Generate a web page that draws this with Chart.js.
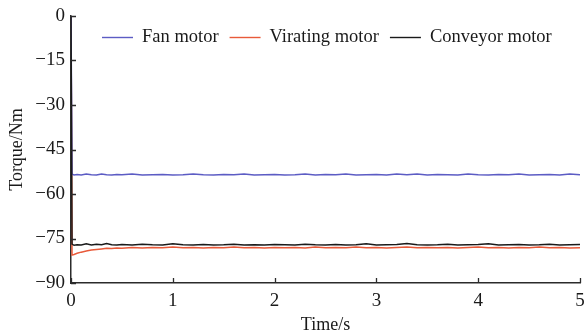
<!DOCTYPE html>
<html>
<head>
<meta charset="utf-8">
<title>Torque</title>
<script src="https://cdn.jsdelivr.net/npm/chart.js@4.4.1/dist/chart.umd.min.js"></script>
<style>
    html, body { margin: 0; padding: 0; background: #fff; }
    #wrap { width: 585px; height: 333px; }
</style>
</head>
<body>
<div id="wrap"><canvas id="chart" width="585" height="333"></canvas></div>
<script>
/**
 * Data
 */
const time = [0, 0.01, 0.03, 0.06, 0.1, 0.15, 0.2, 0.25, 0.3, 0.35, 0.4, 0.45, 0.5,
    0.6, 0.7, 0.8, 0.9, 1.0, 1.1, 1.2, 1.3, 1.4, 1.5, 1.6, 1.7, 1.8, 1.9, 2.0,
    2.1, 2.2, 2.3, 2.4, 2.5, 2.6, 2.7, 2.8, 2.9, 3.0, 3.1, 3.2, 3.3, 3.4, 3.5,
    3.6, 3.7, 3.8, 3.9, 4.0, 4.1, 4.2, 4.3, 4.4, 4.5, 4.6, 4.7, 4.8, 4.9, 5.0];

const fanMotor = [0, -53.3, -53.6, -53.4, -53.6, -53.3, -53.5, -53.6, -53.3, -53.5, -53.6, -53.4, -53.5,
    -53.3, -53.6, -53.5, -53.4, -53.6, -53.5, -53.3, -53.5, -53.6, -53.4, -53.5, -53.3, -53.6, -53.5, -53.4,
    -53.6, -53.5, -53.3, -53.6, -53.4, -53.5, -53.3, -53.6, -53.5, -53.4, -53.6, -53.3, -53.5, -53.3, -53.6,
    -53.4, -53.5, -53.6, -53.3, -53.5, -53.6, -53.4, -53.5, -53.3, -53.6, -53.5, -53.4, -53.6, -53.3, -53.5];

const viratingMotor = [0, -80.6, -80.4, -80.0, -79.6, -79.2, -78.9, -78.7, -78.5, -78.3, -78.4, -78.2, -78.3,
    -78.0, -78.2, -78.0, -78.1, -77.9, -78.1, -78.0, -78.2, -78.0, -78.1, -77.9, -78.1, -78.0, -78.2, -78.0,
    -78.1, -78.0, -78.2, -77.9, -78.1, -78.0, -78.1, -77.9, -78.1, -78.0, -78.2, -78.0, -77.9, -78.1, -78.0,
    -78.1, -78.0, -78.2, -78.0, -77.9, -78.1, -78.0, -78.2, -78.0, -78.1, -77.9, -78.1, -78.0, -78.2, -78.1];

const conveyorMotor = [0, -76.9, -77.3, -77.1, -77.2, -76.8, -77.2, -76.9, -77.1, -76.7, -77.1, -77.2, -77.0,
    -77.2, -76.9, -77.1, -77.2, -76.8, -77.1, -77.2, -77.0, -77.2, -77.1, -76.9, -77.2, -77.1, -77.2, -77.0,
    -77.1, -77.2, -76.9, -77.1, -77.2, -77.0, -77.2, -77.1, -76.8, -77.2, -77.1, -77.0, -76.7, -77.1, -77.2,
    -77.1, -76.9, -77.2, -77.1, -77.0, -76.8, -77.2, -77.1, -77.0, -77.2, -77.1, -76.9, -77.2, -77.1, -77.0];

const seriesLabels = ["Fan motor", "Virating motor", "Conveyor motor"];
const xTicks = [0, 1, 2, 3, 4, 5];
const yTicks = [0, -15, -30, -45, -60, -75, -90];

const FONT = "'Liberation Serif', 'Times New Roman', serif";
const AXIS_COLOR = "#2b2b2b";

function points(values) {
    return values.map(function (v, i) { return {x: time[i], y: v}; });
}

/**
 * Inward tick marks (MATLAB style)
 */
const inwardTicks = {
    id: 'inwardTicks',
    afterDatasetsDraw(chart) {
        const ctx = chart.ctx;
        const x = chart.scales.x;
        const y = chart.scales.y;
        ctx.save();
        ctx.strokeStyle = AXIS_COLOR;
        ctx.lineWidth = 1.3;
        ctx.beginPath();
        xTicks.forEach(function (t) {
            const px = Math.round(x.getPixelForValue(t)) + 0.5;
            ctx.moveTo(px, y.bottom);
            ctx.lineTo(px, y.bottom - 5);
        });
        yTicks.forEach(function (t) {
            const py = Math.round(y.getPixelForValue(t)) + 0.5;
            ctx.moveTo(x.left, py);
            ctx.lineTo(x.left + 5, py);
        });
        ctx.stroke();
        ctx.restore();
    }
};

/**
 * Legend drawn in one row inside the plot
 */
const lineLegend = {
    id: 'lineLegend',
    afterDraw(chart) {
        const ctx = chart.ctx;
        let x = 102;
        const y = 37;
        ctx.save();
        ctx.font = "18.5px " + FONT;
        ctx.textBaseline = 'middle';
        ctx.fillStyle = '#1a1a1a';
        chart.data.datasets.forEach(function (ds) {
            ctx.strokeStyle = ds.borderColor;
            ctx.lineWidth = 1.4;
            ctx.beginPath();
            ctx.moveTo(x, y + 0.5);
            ctx.lineTo(x + 31, y + 0.5);
            ctx.stroke();
            ctx.fillText(ds.label, x + 40, y);
            x = x + 40 + ctx.measureText(ds.label).width + 11;
        });
        ctx.restore();
    }
};

const whiteBackground = {
    id: 'whiteBackground',
    beforeDraw(chart) {
        const ctx = chart.ctx;
        ctx.save();
        ctx.fillStyle = '#fff';
        ctx.fillRect(0, 0, chart.width, chart.height);
        ctx.restore();
    }
};

new Chart(document.getElementById('chart'), {
    type: 'line',
    data: {
        datasets: [
            {label: seriesLabels[0], data: points(fanMotor), borderColor: '#5c5cc4', order: 1},
            {label: seriesLabels[1], data: points(viratingMotor), borderColor: '#e85a3a', order: 2},
            {label: seriesLabels[2], data: points(conveyorMotor), borderColor: '#1a1a1a', order: 0}
        ]
    },
    options: {
        responsive: false,
        animation: false,
        devicePixelRatio: 1,
        elements: {
            point: {radius: 0},
            line: {borderWidth: 1.5, tension: 0}
        },
        layout: {padding: {top: 16, right: 5, left: 0, bottom: 0}},
        plugins: {
            legend: {display: false},
            tooltip: {enabled: false}
        },
        scales: {
            x: {
                type: 'linear',
                min: 0,
                max: 5,
                afterBuildTicks: function (scale) {
                    scale.ticks = xTicks.map(function (v) { return {value: v}; });
                },
                afterFit: function (scale) {
                    scale.height = 50;
                    scale.paddingLeft = 0;
                    scale.paddingRight = 0;
                },
                border: {display: true, color: AXIS_COLOR, width: 1.5},
                grid: {display: false, drawTicks: false},
                ticks: {
                    padding: 7,
                    color: '#1a1a1a',
                    maxRotation: 0,
                    font: {family: FONT, size: 19}
                },
                title: {
                    display: true,
                    text: 'Time/s',
                    color: '#1a1a1a',
                    font: {family: FONT, size: 18, lineHeight: 1},
                    padding: {top: 0, bottom: -1}
                }
            },
            y: {
                type: 'linear',
                min: -90,
                max: 0,
                afterBuildTicks: function (scale) {
                    scale.ticks = yTicks.map(function (v) { return {value: v}; });
                },
                afterFit: function (scale) {
                    scale.width = 71;
                    scale.paddingTop = 0;
                    scale.paddingBottom = 0;
                },
                border: {display: true, color: AXIS_COLOR, width: 1.5},
                grid: {display: false, drawTicks: false},
                ticks: {
                    padding: 6,
                    color: '#1a1a1a',
                    font: {family: FONT, size: 19},
                    callback: function (v) { return String(v).replace('-', '\u2212'); }
                },
                title: {
                    display: true,
                    text: 'Torque/Nm',
                    color: '#1a1a1a',
                    font: {family: FONT, size: 18, lineHeight: 1},
                    padding: {top: 8, bottom: 0}
                }
            }
        }
    },
    plugins: [whiteBackground, inwardTicks, lineLegend]
});
</script>
</body>
</html>
